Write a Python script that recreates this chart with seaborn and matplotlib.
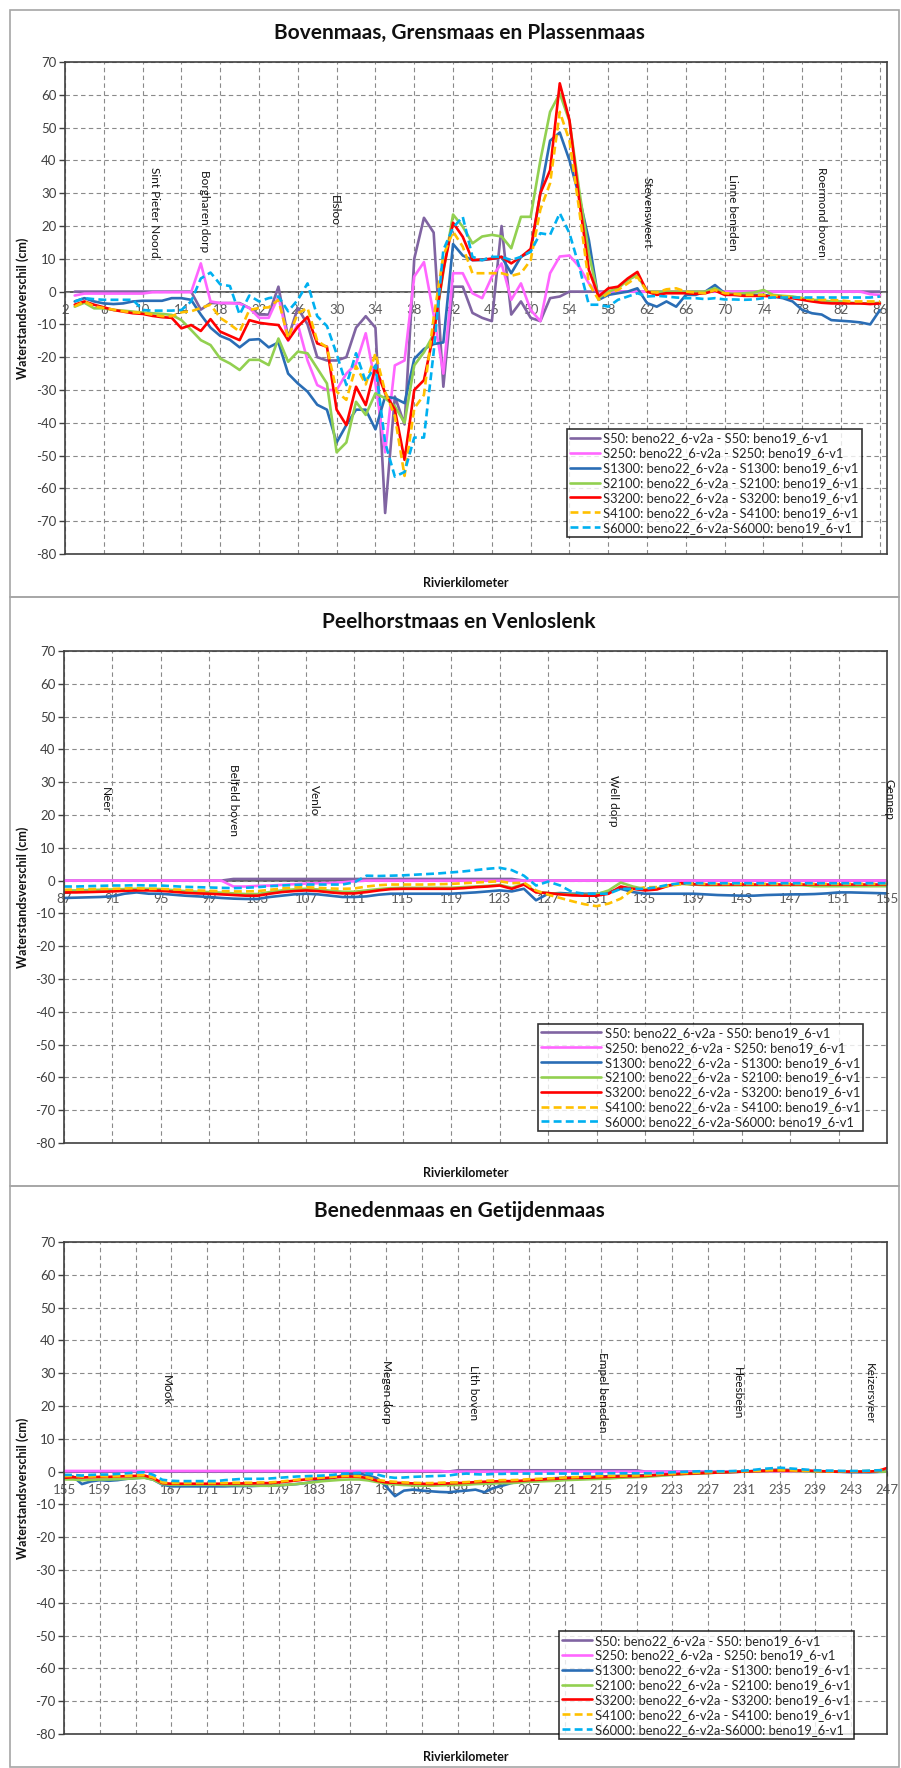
import numpy as np
import pandas as pd
import matplotlib.pyplot as plt
import seaborn as sns
from matplotlib.patches import Rectangle

sns.set_style("white")
plt.rcParams['font.family'] = ['Lato', 'DejaVu Sans']
plt.rcParams['axes.unicode_minus'] = False

labels = ["S50: beno22_6-v2a - S50: beno19_6-v1",
          "S250: beno22_6-v2a - S250: beno19_6-v1",
          "S1300: beno22_6-v2a - S1300: beno19_6-v1",
          "S2100: beno22_6-v2a - S2100: beno19_6-v1",
          "S3200: beno22_6-v2a - S3200: beno19_6-v1",
          "S4100: beno22_6-v2a - S4100: beno19_6-v1",
          "S6000: beno22_6-v2a-S6000: beno19_6-v1"]

# ---------------- Bovenmaas, Grensmaas en Plassenmaas (km 3..86)
km_top = list(range(3, 87))
s50_top = [0, 0, 0, 0, 0, 0, 0, 0, 0, 0,
           0, 0, 0, -5.5, -3.5, -3.5, -3.5, -3.5, -5, -7,
           -7, 1.5, -14, -5, -10, -20, -21, -21, -20, -11,
           -7.5, -11, -67.5, -32, -40.5, 10, 22.5, 18, -29, 1.5,
           1.5, -6.5, -8, -9, 20, -7, -3, -8, -9, -2,
           -1.5, 0, 0, 0, 0, 0, 0, 0, 0, 0,
           0, 0, 0, 0, 0, 0, 0, 0, 0, 0,
           0, 0, 0, 0, 0, 0, 0, 0, 0, 0,
           0, 0, 0, 0]
s250_top = [-1.2, -0.6, -0.6, -0.6, -0.6, -0.6, -0.6, -0.6, -0.2, -0.2,
            -0.2, -0.2, -0.2, 8.6, -3, -3.5, -3.5, -3.7, -5, -8,
            -8, -1.5, -15, -10, -21, -28.5, -30, -30, -25, -22,
            -12.7, -28, -49, -22.5, -21, 4.6, 9, -7, -25, 5.6,
            5.6, -0.5, -2, 4.5, 8.6, -2.5, 2.5, -5.6, -9, 5.6,
            10.7, 11, 7.6, 2.5, -0.5, 0, 0, 0, 0, 0,
            0, 0, 0, 0, 0, 0, 0, 0, 0, 0,
            0, 0, 0, 0, 0, 0, 0, 0, 0, 0,
            0, 0, -0.8, -1]
s1300_top = [-3, -2, -3, -3.6, -3.8, -3.6, -3, -2.8, -2.8, -2.8,
             -2, -2, -2.5, -7, -11, -13.5, -14.7, -17, -14.7, -14.5,
             -17, -15.5, -25, -28, -30.5, -34.5, -36, -46, -40.7, -36,
             -36, -42, -32, -32.5, -34, -20.5, -17.5, -16, -15.5, 14.5,
             11, 9.6, 9.6, 10, 10.6, 5.6, 10.6, 12.2, 30, 46,
             48.5, 40, 29, 15.7, -2.5, -1, -0.5, 0, 1, -3.5,
             -4.6, -3, -4.6, -1, -1, 0, 2, -0.5, -1, -1,
             -1, -1, -1.5, -2, -3, -5.6, -6.6, -7, -8.7, -8.9,
             -9.1, -9.4, -10, -5.6]
s2100_top = [-4.6, -3.4, -5.1, -5.1, -5.6, -5.8, -6.1, -6.4, -6.6, -6.8,
             -7.1, -8.7, -11.7, -14.8, -16.3, -20.4, -21.9, -23.9, -20.8, -20.8,
             -22.4, -14.3, -21.4, -18.3, -18.8, -23.4, -28, -49, -46, -33.6,
             -37.6, -31, -32.5, -35, -40, -22.5, -18.5, -13, 6, 23.5,
             19.8, 14.7, 16.8, 17.3, 16.8, 13.2, 22.8, 22.8, 40, 54.8,
             60.4, 52, 31, 11.6, -2, 0, 1, 3.5, 5, 0,
             0, 0, 0, 0, 0, 0, 1, -0.5, -0.7, -0.5,
             -0.3, 0.5, -1, -1.3, -1.5, -2, -2.5, -2.7, -3, -3,
             -3.4, -3.6, -3.6, -3.4]
s3200_top = [-4, -3, -4, -4.8, -5.6, -6.1, -6.6, -6.8, -7.4, -7.8,
             -8, -11.2, -10.2, -12, -8.4, -12.2, -13.5, -14.8, -8.7, -9.5,
             -9.9, -10.2, -14.8, -10.7, -7.7, -15.8, -16.8, -36, -40.7, -29,
             -34.6, -22.9, -31, -36, -51.3, -30, -27, -12.7, 6.6, 21,
             16.7, 9.6, 9.8, 10, 10.6, 8.6, 10.6, 13, 30, 37,
             63.5, 52.3, 28, 6.6, -1.5, 1, 1.5, 4, 6, 0,
             -1, -0.5, -0.5, -0.5, -0.7, -0.5, 0.3, -1, -1, -1.3,
             -1.3, -1.3, -1.5, -1.7, -2, -2.5, -3, -3.4, -3.6, -3.6,
             -3.6, -3.6, -3.8, -3.6]
s4100_top = [-4.5, -3, -4.5, -5, -5.5, -6, -6.3, -6.5, -7, -7.5,
             -7.5, -6.3, -6, -5, -4, -8, -10, -12.2, -5.6, -5,
             -4.8, -2.5, -14.2, -6.6, -5, -15, -17, -30.5, -33, -22.7,
             -28.3, -18.8, -30.5, -38, -56.2, -35.6, -31.5, -8, 11, 18.3,
             13.7, 5.6, 5.6, 5.6, 5.6, 4.8, 5.6, 9.6, 25, 33,
             54.8, 46, 25, 2.5, -2.5, -0.5, 0.5, 2.5, 4.5, 0,
             -0.3, 0.7, 1, 0, -0.3, -0.5, 0.5, -0.5, -0.7, -1,
             -1, -1, -1.3, -1.5, -1.7, -2, -2.4, -2.5, -2.5, -2.7,
             -3, -3, -3, -3]
s6000_top = [-3, -2, -2.3, -2.5, -2.5, -2.5, -2.5, -5.6, -5.8, -5.8,
             -5.8, -5.6, -3, 4, 5.8, 2.2, 1.7, -7, -1.2, -3,
             -2, -1.5, -6, -2.5, 2.5, -7.5, -10.5, -19, -28.5, -18.8,
             -27.5, -22.5, -46, -56.4, -55, -44.5, -44.5, -18.5, 12.7, 19.5,
             22.8, 10.6, 9.6, 10.6, 10.6, 9.6, 10.6, 12.2, 17.8, 17.3,
             23.9, 17.8, 7.6, -4, -4, -4.6, -2.5, -1.5, -0.5, -1.5,
             -1.3, -1.5, -1.8, -2, -2, -2.3, -2, -2.4, -2.4, -2.5,
             -2.4, -2, -1.8, -1.8, -1.8, -1.8, -1.8, -1.8, -1.8, -1.8,
             -1.8, -1.8, -1.8, -1.5]

# ---------------- Peelhorstmaas en Venloslenk (km 87..155)
km_mid = list(range(87, 156))
s50_mid = [0, 0, 0, 0, 0, 0, 0, 0, 0, 0,
           0, 0, 0, 0, 0.5, 0.5, 0.5, 0.5, 0.5, 0.5,
           0.5, 0.5, 0.5, 0.5, 0.5, 0.5, 0.5, 0.5, 0.5, 0.5,
           0.5, 0.5, 0.5, 0.5, 0.5, 0.5, 0.5, 0.5, 0, 0,
           0, 0, 0, 0, 0, 0, 0, 0, 0, 0,
           0, 0, 0, 0, 0, 0, 0, 0, 0, 0,
           0, 0, 0, 0, 0, 0, 0, 0, 0]
s250_mid = [0, 0, 0, 0, 0, 0, 0, 0, 0, 0,
            0, 0, 0, 0, -1.8, -1.8, -1.6, -1.5, -1.3, -1.1,
            -0.9, -0.8, -0.7, -0.5, -0.2, 0, 0, 0, 0, 0,
            0, 0, 0, 0, 0, 0, 0, 0, 0, 0,
            0, 0, 0, 0, 0, 0, 0, 0, 0, 0,
            0, 0, 0, 0, 0, 0, 0, 0, 0, 0,
            0, 0, 0, 0, 0, 0, 0, 0, 0]
s1300_mid = [-5.3, -5.2, -5.1, -5, -4.8, -4, -3.6, -4, -4, -4.3,
             -4.6, -4.8, -5, -5.3, -5.5, -5.6, -5.6, -5, -4.6, -4.2,
             -4, -4.2, -4.6, -5, -5, -4.8, -4.3, -4, -4, -4,
             -4, -4, -4, -3.8, -3.6, -3.3, -3, -3.3, -2.5, -6,
             -4, -3.8, -4, -4, -4, -3.5, -2.5, -3.5, -4, -4,
             -4, -4, -4, -4.2, -4.4, -4.5, -4.6, -4.6, -4.4, -4.3,
             -4.2, -4.2, -4.1, -3.9, -3.6, -3.6, -3.7, -3.8, -3.9]
s2100_mid = [-3, -3, -2.9, -2.8, -2.7, -2.6, -2.5, -2.5, -2.6, -2.9,
             -3.2, -3.4, -3.5, -3.7, -3.9, -4.1, -4.1, -3.5, -3, -2.7,
             -2.5, -2.7, -3.1, -3.4, -3.4, -3, -2.6, -2.3, -2.2, -2.2,
             -2.2, -2.2, -2.2, -2, -1.8, -1.6, -1.3, -2.2, -1, -3.4,
             -3.8, -4.1, -4.3, -4.4, -4.2, -3, -0.6, -1.8, -2.6, -2.4,
             -1.4, -1, -1.2, -1.4, -1.4, -1.4, -1.4, -1.4, -1.4, -1.4,
             -1.4, -1.4, -1.7, -1.7, -1.7, -1.7, -1.7, -1.7, -1.7]
s3200_mid = [-3.6, -3.6, -3.5, -3.4, -3.3, -3.1, -3, -3, -3.1, -3.4,
             -3.7, -3.9, -4, -4.2, -4.4, -4.6, -4.6, -4, -3.5, -3.2,
             -3, -3.2, -3.6, -3.9, -3.9, -3.5, -3, -2.6, -2.5, -2.5,
             -2.5, -2.5, -2.5, -2.3, -2, -1.8, -1.5, -2.5, -1.2, -3.6,
             -3.8, -4.2, -4.5, -4.6, -4.6, -4, -1.8, -2.5, -3, -2.7,
             -1.5, -0.8, -1.1, -1.2, -1.2, -1.2, -1.2, -1.2, -1.2, -1.2,
             -1.2, -1.2, -1.2, -1.2, -1.2, -1.2, -1.2, -1.2, -1.2]
s4100_mid = [-2.8, -2.7, -2.6, -2.5, -2.5, -2.4, -2.3, -2.5, -2.5, -2.7,
             -2.8, -3, -3.1, -3.2, -3.3, -3.3, -3.2, -2.8, -2.4, -2.1,
             -2, -2.2, -2.4, -2.5, -2.4, -1.8, -1.4, -1.2, -1.2, -1.2,
             -1.2, -1.1, -1, -0.8, -0.6, -0.4, -0.2, -0.8, -0.6, -3,
             -4.3, -5.3, -6.3, -7.2, -7.8, -7, -5.5, -2.8, -2, -2,
             -1.6, -1.1, -0.9, -1, -1, -1, -1, -1, -1, -1,
             -1, -1, -1, -1, -1, -1, -1, -1, -1]
s6000_mid = [-1.8, -1.8, -1.7, -1.6, -1.5, -1.5, -1.4, -1.5, -1.5, -1.7,
             -1.9, -2, -2.1, -2.2, -2.3, -2.2, -2, -1.7, -1.5, -1.3,
             -1.2, -1.2, -1.2, -1.2, -0.5, 1.5, 1.4, 1.5, 1.6, 1.8,
             2, 2.2, 2.5, 2.8, 3.2, 3.6, 3.9, 3.2, 1.5, -1.5,
             -0.3, -1.5, -3.5, -4, -4, -4, -2.5, -2.5, -2.5, -2,
             -1.2, -0.8, -0.8, -0.8, -0.8, -0.8, -0.8, -0.8, -0.8, -0.8,
             -0.8, -0.8, -0.8, -0.8, -0.8, -0.8, -0.8, -0.8, -0.8]

# ---------------- Benedenmaas en Getijdenmaas (km 155..247)
km_bot = list(range(155, 248))
s50_bot = [0, 0, 0, 0, 0, 0, 0, 0, 0, 0,
           0, 0, 0, 0, 0, 0, 0, 0, 0, 0,
           0, 0, 0, 0, 0, 0, 0, 0, 0, 0,
           0, 0, 0, 0, 0, 0, 0, 0, 0, 0,
           0, 0, 0, 0, 0.4, 0.4, 0.4, 0.4, 0.4, 0.4,
           0.4, 0.4, 0.4, 0.4, 0.4, 0.4, 0.4, 0.4, 0.4, 0.4,
           0.4, 0.4, 0.4, 0.4, 0.4, 0, 0, 0, 0, 0,
           0, 0, 0, 0, 0, 0, 0, 0, 0, 0,
           0, 0, 0, 0, 0, 0, 0, 0, 0, 0,
           0, 0, 0]
s250_bot = [0.2, 0.2, 0.2, 0.2, 0.2, 0.2, 0.2, 0.2, 0.2, 0.2,
            0.2, 0.2, 0.2, 0.2, 0.2, 0.2, 0.2, 0.2, 0.2, 0.2,
            0.2, 0.2, 0.2, 0.2, 0.2, 0.2, 0.2, 0.2, 0.2, 0.2,
            0.2, 0.2, 0.2, 0.2, 0.2, 0.2, 0.2, 0.2, 0.2, 0.2,
            0.2, 0.2, 0.2, 0, 0, 0, 0, 0, 0, 0,
            0, 0, 0, 0, 0, 0, 0, 0, 0, 0,
            0, 0, 0, 0, 0, 0, 0, 0, 0, 0,
            0, 0, 0, 0, 0, 0, 0, 0, 0, 0,
            0, 0, 0, 0, 0, 0, 0, 0, 0, 0,
            0, 0, 0]
s1300_bot = [-1.5, -1.5, -3.8, -3, -2.6, -2.8, -2.6, -2.2, -2, -1.8,
             -2.5, -4, -4.5, -4.5, -4.5, -4.5, -4.5, -4.5, -4.5, -4.4,
             -4.4, -4.4, -4.3, -4.3, -4.2, -4, -3.8, -3.5, -3, -2.5,
             -2, -1.2, -0.8, -0.6, -1.2, -2, -4.5, -7.5, -5.8, -5.5,
             -5.8, -6, -6.2, -6.3, -6, -5.8, -5.5, -6.3, -5, -4.3,
             -3.5, -3, -2.8, -2.5, -2.2, -2, -1.9, -1.8, -1.7, -1.6,
             -1.5, -1.4, -1.3, -1.2, -1.2, -1.1, -1, -1, -0.9, -0.7,
             -0.5, -0.4, -0.3, -0.2, -0.2, -0.1, 0, 0.2, 0.3, 0.5,
             0.6, 0.5, 0.3, 0.2, 0.1, 0, 0, -0.1, -0.2, -0.2,
             -0.2, -0.1, 0]
s2100_bot = [-2.4, -2.4, -2.6, -2.5, -2.4, -2.4, -2.3, -2.2, -2, -1.9,
             -2.5, -3.8, -4, -4, -4, -4, -4, -4, -4.1, -4.1,
             -4.2, -4.2, -4.3, -4.3, -4.2, -4, -3.8, -3.5, -3.2, -2.9,
             -2.7, -2.5, -2.4, -2.4, -2.7, -3.2, -3.7, -3.9, -4.1, -4.2,
             -4.3, -4.3, -4.2, -4.1, -4.1, -4, -3.8, -3.7, -3.6, -3.5,
             -3.5, -3.3, -3.1, -3, -2.9, -2.8, -2.6, -2.5, -2.4, -2.3,
             -2.2, -2.1, -1.9, -1.8, -1.7, -1.6, -1.4, -1.2, -1, -0.8,
             -0.7, -0.6, -0.5, -0.3, -0.2, -0.1, 0, 0.1, 0.1, 0.2,
             0.2, 0.2, 0.1, 0.1, 0, 0, 0, 0, 0, 0,
             0, 0, 0]
s3200_bot = [-1.9, -1.7, -1.8, -1.7, -1.6, -1.6, -1.5, -1.4, -1.3, -1.2,
             -2, -3.5, -3.7, -3.7, -3.7, -3.7, -3.7, -3.7, -3.7, -3.6,
             -3.6, -3.6, -3.5, -3.5, -3.3, -3, -2.7, -2.4, -2.2, -2,
             -1.8, -1.6, -1.5, -1.6, -2, -2.8, -3.3, -3.4, -3.5, -3.6,
             -3.7, -3.8, -3.7, -3.6, -3.5, -3.4, -3.2, -3.1, -3, -2.9,
             -2.9, -2.8, -2.6, -2.5, -2.3, -2.2, -2, -1.9, -1.9, -1.8,
             -1.7, -1.6, -1.5, -1.4, -1.4, -1.3, -1.1, -0.9, -0.8, -0.7,
             -0.6, -0.5, -0.4, -0.3, -0.2, -0.1, 0, 0.1, 0.2, 0.3,
             0.3, 0.3, 0.3, 0.3, 0.2, 0.1, 0, 0, 0, 0,
             0, 0.2, 1.1]
s4100_bot = [-1.4, -1.3, -1.5, -1.5, -1.4, -1.5, -1.4, -1.3, -1.2, -1.1,
             -1.8, -3.3, -3.5, -3.5, -3.5, -3.5, -3.5, -3.5, -3.5, -3.4,
             -3.4, -3.4, -3.3, -3.3, -3.1, -2.8, -2.5, -2.2, -2, -1.8,
             -1.6, -1.4, -1.3, -1.4, -1.8, -2.5, -2.9, -3.1, -3.3, -3.4,
             -3.5, -3.5, -3.4, -3.3, -3.3, -3.2, -3, -2.8, -2.7, -2.6,
             -2.6, -2.5, -2.3, -2.2, -2.1, -2, -1.8, -1.7, -1.6, -1.5,
             -1.4, -1.3, -1.3, -1.2, -1.2, -1.1, -0.9, -0.7, -0.6, -0.5,
             -0.4, -0.3, -0.2, -0.1, 0, 0.1, 0.1, 0.2, 0.3, 0.4,
             0.4, 0.4, 0.3, 0.3, 0.2, 0.1, 0.1, 0.1, 0.1, 0.1,
             0.2, 0.4, 0.6]
s6000_bot = [-1, -1, -1.2, -1, -0.9, -0.9, -0.7, -0.5, -0.3, -0.2,
             -1, -2.5, -2.8, -2.9, -2.9, -2.9, -2.9, -2.9, -2.6, -2.4,
             -2.2, -2.2, -2.2, -2.1, -1.9, -1.7, -1.5, -1.4, -1.3, -1.2,
             -1, -0.7, -0.5, -0.4, -0.6, -0.9, -1.6, -1.9, -1.8, -1.6,
             -1.5, -1.4, -1.3, -1.2, -0.8, -0.6, -0.8, -0.9, -0.7, -0.7,
             -0.6, -0.6, -0.6, -0.6, -0.6, -0.6, -0.6, -0.6, -0.6, -0.6,
             -0.6, -0.5, -0.5, -0.5, -0.5, -0.5, -0.5, -0.4, -0.2, -0.1,
             0, 0.1, 0.1, 0.1, 0.1, 0.2, 0.3, 0.5, 0.8, 1,
             1.2, 1, 0.8, 0.6, 0.4, 0.3, 0.3, 0.2, 0.2, 0.2,
             0.3, 0.4, 0.4]

ticks_top = list(range(2, 87, 4))
ticks_mid = list(range(87, 156, 4))
ticks_bot = list(range(155, 248, 4))
yticks = list(range(-80, 71, 10))

stations_top = ["Sint Pieter Noord", "Borgharen dorp", "Elsloo", "Stevensweert", "Linne beneden", "Roermond boven"]
stations_top_km = [11.2, 16.4, 29.8, 62, 70.8, 80]
stations_mid = ["Neer", "Belfeld boven", "Venlo", "Well dorp", "Gennep"]
stations_mid_km = [90.4, 101, 107.7, 132.4, 155.2]
stations_bot = ["Mook", "Megen dorp", "Lith boven", "Empel beneden", "Heesbeen", "Keizersveer"]
stations_bot_km = [166.5, 191, 200.8, 215.2, 230.3, 245]

# styling
colors = ['#8064A2', '#FF66FF', '#2A6DB5', '#92D050', '#FF0000', '#FFC000', '#00B0F0']
dash = (0, (3, 1.6))
styles = ['-', '-', '-', '-', '-', dash, dash]

W, H = 901, 1768
fig = plt.figure(figsize=(W / 100, H / 100), dpi=100)


def fx(px):
    return px / W


def fy(py):
    return 1 - py / H


def panel(top_px, bot_px, left_px, right_px, km, data, ticks, xlim, title, title_y,
          st_names, st_km, st_top, xlabel_y, leg_anchor, handle_len):
    ax = fig.add_axes([fx(left_px), fy(bot_px), fx(right_px - left_px), (bot_px - top_px) / H])
    for lab, col, ls, vals in zip(labels, colors, styles, data):
        sns.lineplot(x=km, y=vals, ax=ax, color=col, linewidth=1.9, linestyle=ls,
                     label=lab, estimator=None, sort=False)
    ax.set_xlim(*xlim)
    ax.set_ylim(-80, 70)
    ax.set_yticks(yticks)
    ax.set_xticks(ticks)
    ax.tick_params(axis='x', length=0, labelbottom=False)
    ax.tick_params(axis='y', length=4, width=1, color='#404040', labelsize=9.5,
                   labelcolor='#404040', pad=2, left=True)
    ax.grid(True, color='#8a8a8a', linestyle=(0, (4, 3)), linewidth=0.8)
    ax.set_axisbelow(True)
    for s in ax.spines.values():
        s.set_color('#404040')
        s.set_linewidth(1.2)
    ax.set_xlabel('')
    ax.set_ylabel('')

    # category labels along the zero line
    sec = ax.secondary_xaxis((0 - (-80)) / (70 - (-80)))
    sec.set_alignment('bottom')
    sec.set_xticks(ticks)
    sec.set_xticklabels([str(t) for t in ticks])
    sec.tick_params(axis='x', length=3, color='#404040', labelsize=9.5,
                    labelcolor='#595959', pad=6)
    for s in sec.spines.values():
        s.set_color('#404040')
        s.set_linewidth(1.2)

    for name, k, yt in zip(st_names, st_km, st_top):
        ax.text(k, yt, name, rotation=270, ha='center', va='top', fontsize=8.5, color='#111111')

    leg = ax.legend(loc='lower right', bbox_to_anchor=leg_anchor, fontsize=9.3,
                    frameon=True, fancybox=False, edgecolor='#000000', borderpad=0.25,
                    labelspacing=0.22, handlelength=handle_len, handletextpad=0.3,
                    borderaxespad=0)
    leg.get_frame().set_linewidth(1.2)

    fig.text(fx(459), fy(title_y), title, ha='center', va='center', fontsize=15,
             fontweight='bold', color='#111111')
    fig.text(fx(23), fy((top_px + bot_px) / 2), 'Waterstandsverschil (cm)', rotation=90,
             ha='center', va='center', fontsize=9, fontweight='bold', color='#111111')
    fig.text(fx(466), fy(xlabel_y), 'Rivierkilometer', ha='center', va='center',
             fontsize=9, fontweight='bold', color='#111111')
    return ax


panel(62, 554, 65, 886.7, km_top,
      [s50_top, s250_top, s1300_top, s2100_top, s3200_top, s4100_top, s6000_top],
      ticks_top, (2, 86.7), 'Bovenmaas, Grensmaas en Plassenmaas', 33,
      stations_top, stations_top_km, [38, 37, 29.5, 35, 36, 38], 583, (0.970, 0.035), 2.3)

panel(651, 1143, 64, 887, km_mid,
      [s50_mid, s250_mid, s1300_mid, s2100_mid, s3200_mid, s4100_mid, s6000_mid],
      ticks_mid, (87, 155), 'Peelhorstmaas en Venloslenk', 622,
      stations_mid, stations_mid_km, [28.4, 35.6, 29, 32.3, 31], 1173, (0.971, 0.024), 4.6)

panel(1242, 1734, 64, 887, km_bot,
      [s50_bot, s250_bot, s1300_bot, s2100_bot, s3200_bot, s4100_bot, s6000_bot],
      ticks_bot, (155, 247), 'Benedenmaas en Getijdenmaas', 1211,
      stations_bot, stations_bot_km, [29.6, 34, 32.6, 36.6, 32, 33], 1757, (0.960, -0.01), 2.3)

# panel frames
for y0, y1 in [(10, 597), (597, 1186), (1186, 1767)]:
    fig.add_artist(Rectangle((fx(10), fy(y1)), fx(889), (y1 - y0) / H, transform=fig.transFigure,
                             fill=False, edgecolor='#a6a6a6', linewidth=1.2))

fig.savefig('out.png', dpi=100, facecolor='white')
